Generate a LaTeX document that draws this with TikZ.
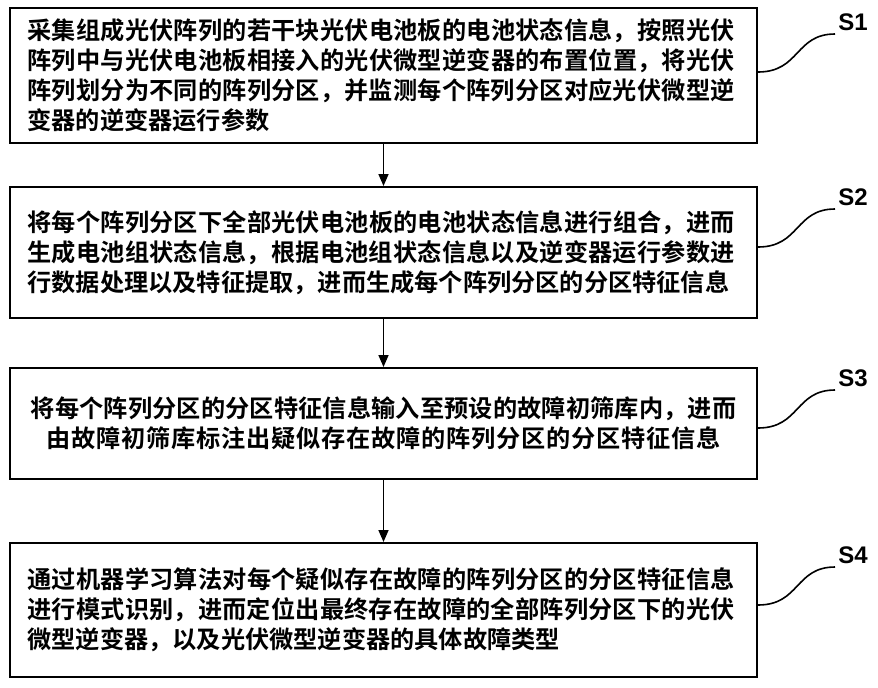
\documentclass[tikz,border=0pt]{standalone}
\usepackage{fontspec}
\newfontfamily\cjk{Noto Sans CJK SC Bold}
\setsansfont{Liberation Sans}
\XeTeXlinebreaklocale "zh"
\XeTeXlinebreakskip=0pt plus 1pt
\usetikzlibrary{positioning, arrows.meta}
\tikzset{
  stepbox/.style={draw, line width=1pt, minimum width=373.5pt, text width=356pt,
    inner sep=0pt, font=\cjk\fontsize{12.1}{15}\selectfont},
  flow/.style={-{Triangle[length=6pt,width=5pt]}, line width=0.8pt},
  tag/.style={font=\sffamily\bfseries\fontsize{12}{14}\selectfont},
  leader/.style={line width=0.8pt}
}
\begin{document}
\begin{tikzpicture}[x=0.5pt,y=-0.5pt]
\useasboundingbox (0,0) rectangle (878,687);
% Schritte
\node[stepbox, minimum height=67.5pt, align=left] (s1) at (383.5,75.5) {采集组成光伏阵列的若干块光伏电池板的电池状态信息，按照光伏阵列中与光伏电池板相接入的光伏微型逆变器的布置位置，将光伏阵列划分为不同的阵列分区，并监测每个阵列分区对应光伏微型逆变器的逆变器运行参数};
\node[stepbox, minimum height=65.5pt, align=left] (s2) at (383.5,252.5) {将每个阵列分区下全部光伏电池板的电池状态信息进行组合，进而生成电池组状态信息，根据电池组状态信息以及逆变器运行参数进行数据处理以及特征提取，进而生成每个阵列分区的分区特征信息};
\node[stepbox, minimum height=55.5pt, align=center] (s3) at (383.5,423.5) {将每个阵列分区的分区特征信息输入至预设的故障初筛库内，进而\\由故障初筛库标注出疑似存在故障的阵列分区的分区特征信息};
\node[stepbox, minimum height=67pt, align=left] (s4) at (383.5,610) {通过机器学习算法对每个疑似存在故障的阵列分区的分区特征信息进行模式识别，进而定位出最终存在故障的全部阵列分区下的光伏微型逆变器，以及光伏微型逆变器的具体故障类型};
% Pfeile
\draw[flow] (s1) -- (s2);
\draw[flow] (s2) -- (s3);
\draw[flow] (s3) -- (s4);
% Marken
\foreach \i/\y in {1/22, 2/197, 3/378, 4/555} {
  \node[tag] (t\i) at (853,\y) {S\i};
  \draw[leader] (s\i.east |- 0,\y+50) .. controls (800,\y+50) and (795,\y+12) .. (835,\y+12);
}
\end{tikzpicture}
\end{document}
